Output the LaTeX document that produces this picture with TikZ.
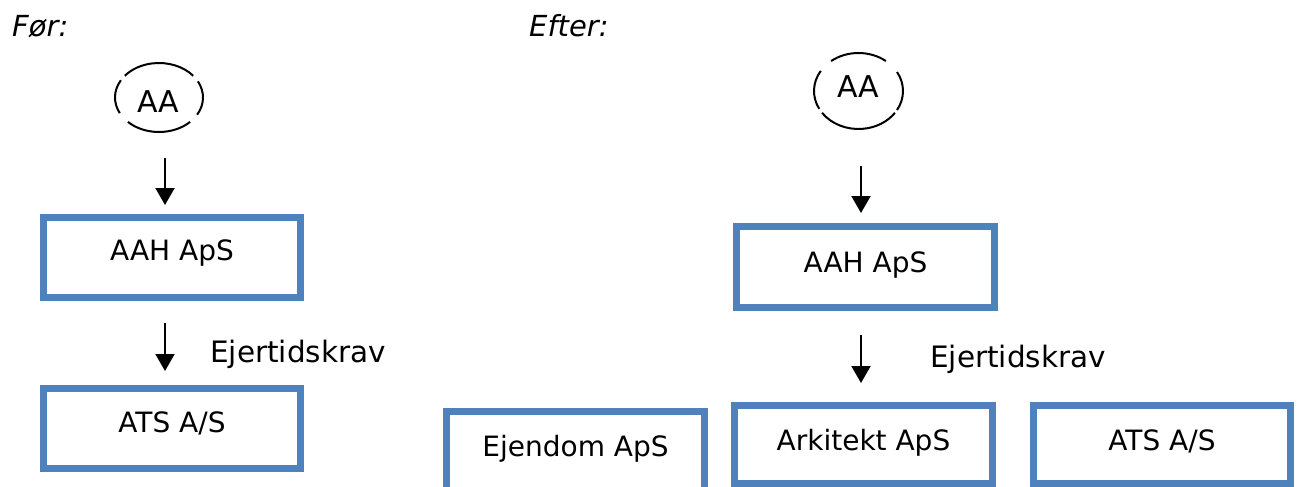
\documentclass[tikz,border=0pt]{standalone}
\usepackage{fontspec}
\setmainfont{DejaVu Sans}
\usetikzlibrary{arrows.meta,shapes.geometric}
\definecolor{boxblue}{HTML}{4F81BD}
\tikzset{
  lbl/.style={font=\fontsize{28}{32}\selectfont, inner sep=0pt},
  big/.style={font=\fontsize{30}{34}\selectfont, inner sep=0pt},
  head/.style={font=\fontsize{29}{33}\selectfont\itshape, inner sep=0pt},
  box/.style={lbl, draw=boxblue, line width=6.5pt, rectangle, text height=20pt},
  arr/.style={line width=2pt, -{Triangle[width=19pt,length=17pt]}},
  oval/.style={line width=2pt},
}
\begin{document}
\begin{tikzpicture}[x=1pt,y=1pt]
\useasboundingbox (0,0) rectangle (1299,-487);
\clip (0,0) rectangle (1299,-487);
% headings
\node[head, anchor=base west] (before) at (12,-37) {Før:};
\node[head, anchor=base west] (after) at (529,-37) {Efter:};
% ---- before ----
\node[ellipse, minimum width=88, minimum height=69, inner sep=0] (aa1) at (159,-97.5) {};
\node[big, anchor=base] (aa1t) at (158,-113) {AA};
\draw[oval] ([shift={(39:44 and 34.5)}]aa1.center) arc[start angle=39, end angle=141, x radius=44, y radius=34.5];
\draw[oval] ([shift={(150:44 and 34.5)}]aa1.center) arc[start angle=150, end angle=207, x radius=44, y radius=34.5];
\draw[oval] ([shift={(225:44 and 34.5)}]aa1.center) arc[start angle=225, end angle=315, x radius=44, y radius=34.5];
\draw[oval] ([shift={(-30:44 and 34.5)}]aa1.center) arc[start angle=-30, end angle=28, x radius=44, y radius=34.5];
\node[box, minimum width=257, minimum height=80, text depth=15pt] (aah1) at (172,-257.5) {AAH ApS};
\node[box, minimum width=257, minimum height=80, text depth=13pt] (ats1) at (172,-428.5) {ATS A/S};
\coordinate (a1s) at (165,-158);
\coordinate (a1e) at (165,-205);
\coordinate (a2s) at (165,-323);
\coordinate (a2e) at (165,-371);
\draw[arr] (a1s) -- (a1e);
\draw[arr] (a2s) -- (a2e);
\node[lbl, font=\fontsize{29.5}{33}\selectfont, anchor=base west] (ej1) at (210,-362) {Ejertidskrav};
% ---- after ----
\node[ellipse, minimum width=89, minimum height=76, inner sep=0] (aa2) at (858.5,-91) {};
\node[big, anchor=base] (aa2t) at (858,-97) {AA};
\draw[oval] ([shift={(52:44.5 and 38)}]aa2.center) arc[start angle=52, end angle=128, x radius=44.5, y radius=38];
\draw[oval] ([shift={(148:44.5 and 38)}]aa2.center) arc[start angle=148, end angle=208, x radius=44.5, y radius=38];
\draw[oval] ([shift={(215:44.5 and 38)}]aa2.center) arc[start angle=215, end angle=325, x radius=44.5, y radius=38];
\draw[oval] ([shift={(-30:44.5 and 38)}]aa2.center) arc[start angle=-30, end angle=30, x radius=44.5, y radius=38];
\node[box, minimum width=258, minimum height=81, text depth=10pt] (aah2) at (865.5,-267) {AAH ApS};
\node[box, minimum width=258, minimum height=108.5, text depth=39.5pt] (ejd) at (575.5,-465.75) {Ejendom ApS};
\node[box, minimum width=258, minimum height=78, text depth=9pt] (ark) at (863.5,-444.5) {Arkitekt ApS};
\node[box, minimum width=257, minimum height=78, text depth=9pt] (ats2) at (1162,-444.5) {ATS A/S};
\coordinate (b1s) at (861,-166);
\coordinate (b1e) at (861,-213);
\coordinate (b2s) at (861,-335);
\coordinate (b2e) at (861,-383);
\draw[arr] (b1s) -- (b1e);
\draw[arr] (b2s) -- (b2e);
\node[lbl, font=\fontsize{29.5}{33}\selectfont, anchor=base west] (ej2) at (930,-367) {Ejertidskrav};
\end{tikzpicture}
\end{document}
